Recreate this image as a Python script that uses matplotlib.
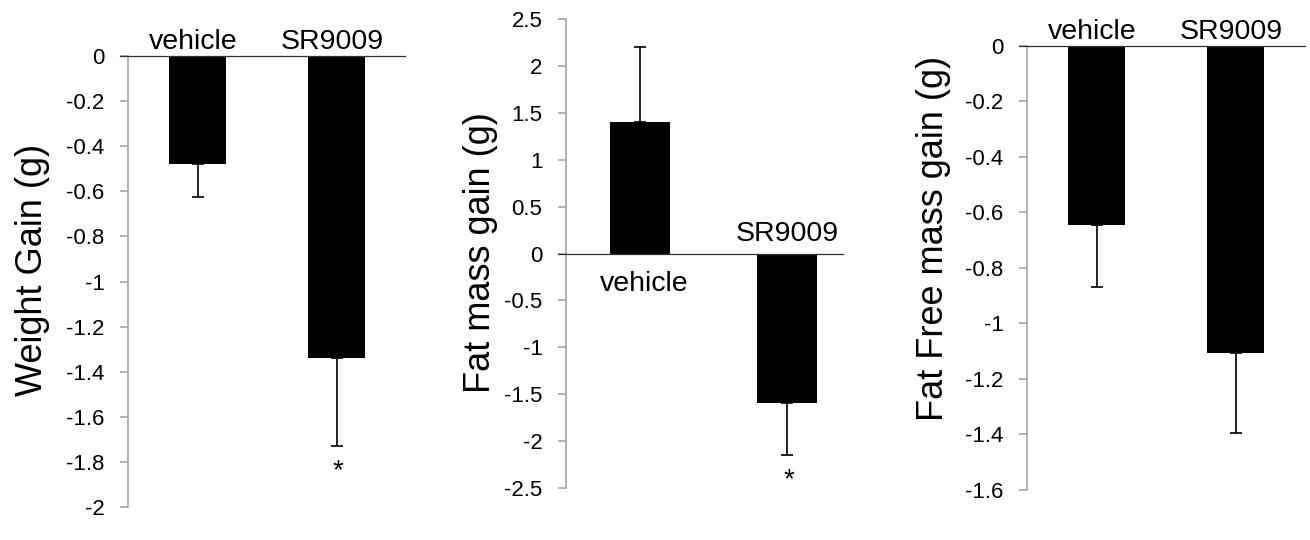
import matplotlib
matplotlib.use("Agg")
import matplotlib.pyplot as plt

plt.rcParams['font.family'] = ['Liberation Sans', 'DejaVu Sans']

groups = ["vehicle", "SR9009"]

weight_gain = [-0.48, -1.34]
weight_err = [0.146, 0.39]

fat_gain = [1.40, -1.59]
fat_err = [0.80, 0.56]

lean_gain = [-0.645, -1.105]
lean_err = [0.225, 0.29]

weight_ticks = [0, -0.2, -0.4, -0.6, -0.8, -1, -1.2, -1.4, -1.6, -1.8, -2]
fat_ticks = [2.5, 2, 1.5, 1, 0.5, 0, -0.5, -1, -1.5, -2, -2.5]
lean_ticks = [0, -0.2, -0.4, -0.6, -0.8, -1, -1.2, -1.4, -1.6]

significant = [[False, True], [False, True], [False, False]]

fig = plt.figure(figsize=(13.1, 5.4), dpi=100)

ax1 = fig.add_axes([0.0977, 0.0611, 0.2115, 0.8352])
ax2 = fig.add_axes([0.4321, 0.0963, 0.2115, 0.8685])
ax3 = fig.add_axes([0.7840, 0.0926, 0.2122, 0.8228])

panels = [
    (ax1, weight_gain, weight_err, weight_ticks, (-2, 0), (-0.5, 1.49), "Weight Gain (g)", (-0.343, 0.525)),
    (ax2, fat_gain, fat_err, fat_ticks, (-2.5, 2.5), (-0.5, 1.38), "Fat mass gain (g)", (-0.31, 0.503)),
    (ax3, lean_gain, lean_err, lean_ticks, (-1.6, 0), (-0.5, 1.5), "Fat Free mass gain (g)", (-0.338, 0.567)),
]

for k, (ax, vals, errs, ticks, ylim, xlim, ylabel, lab_pos) in enumerate(panels):
    x = list(range(len(groups)))
    ax.bar(x, vals, width=0.41, color='black', zorder=2)
    lower = [e if v < 0 else 0 for v, e in zip(vals, errs)]
    upper = [e if v >= 0 else 0 for v, e in zip(vals, errs)]
    ax.errorbar(x, vals, yerr=[lower, upper], fmt='none', ecolor='black',
                elinewidth=1.2, capsize=4.5, capthick=1.2, zorder=3)

    ax.set_ylim(*ylim)
    ax.set_xlim(*xlim)
    ax.set_xticks([])
    ax.set_yticks(ticks)
    ax.set_yticklabels([f"{t:g}" for t in ticks])
    ax.tick_params(axis='y', direction='out', length=6, width=1.2,
                   color='#A6A6A6', labelsize=16, pad=11)
    for s in ['top', 'right', 'bottom']:
        ax.spines[s].set_visible(False)
    ax.spines['left'].set_color('#A6A6A6')
    ax.spines['left'].set_linewidth(1.2)
    ax.axhline(0, xmin=-0.03, xmax=1, color='#303030', lw=0.9, clip_on=False, zorder=4)

    ax.text(lab_pos[0], lab_pos[1], ylabel, transform=ax.transAxes, rotation=90,
            ha='center', va='center', fontsize=26)

    # group labels
    for i, (g, v) in enumerate(zip(groups, vals)):
        if k == 1 and v > 0:
            ax.annotate(g, xy=(i + 0.03, 0), xytext=(0, -27), textcoords='offset points',
                        ha='center', va='baseline', fontsize=20.5, annotation_clip=False)
        elif k == 1:
            ax.annotate(g, xy=(i, 0), xytext=(0, 9), textcoords='offset points',
                        ha='center', va='baseline', fontsize=20.5, annotation_clip=False)
        else:
            ax.annotate(g, xy=(i - 0.03, 0), xytext=(0, 5), textcoords='offset points',
                        ha='center', va='baseline', fontsize=20.5, annotation_clip=False)

    for i, (v, e, sig) in enumerate(zip(vals, errs, significant[k])):
        if sig:
            ax.annotate('*', xy=(i + 0.01, v - e), xytext=(0, -23), textcoords='offset points',
                        ha='center', va='baseline', fontsize=20, annotation_clip=False)

fig.savefig("out.png", dpi=100)
